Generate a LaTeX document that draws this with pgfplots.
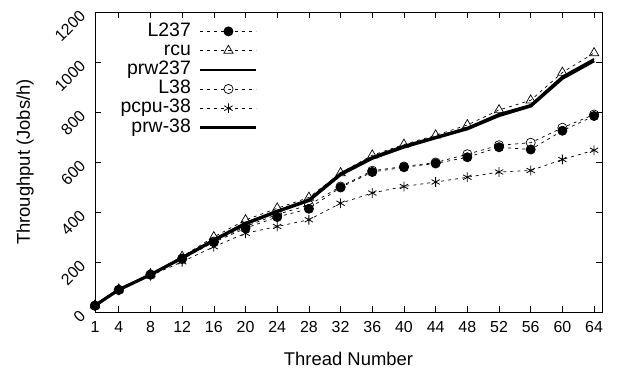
\documentclass[border=0pt]{standalone}
\usepackage{pgfplots}
\pgfplotsset{compat=1.18}
\usepackage{fontspec}
\setmainfont{Liberation Sans}
\begin{document}
\begin{tikzpicture}
\begin{axis}[
  scale only axis,
  width=507bp, height=300bp,
  xmin=1, xmax=65, ymin=0, ymax=1200,
  xtick={1,4,8,12,16,20,24,28,32,36,40,44,48,52,56,60,64},
  ytick={0,200,400,600,800,1000,1200},
  tick align=inside,
  major tick length=6bp,
  axis line style={line width=0.8bp},
  tick style={line width=0.6bp, black},
  /pgf/number format/assume math mode=true,
  /pgf/number format/1000 sep={},
  tick label style={font=\fontsize{16}{18}\selectfont},
  yticklabel style={xshift=-10bp, yshift=1bp, rotate=45, anchor=east},
  xticklabel style={anchor=north, yshift=-6bp},
  xlabel={Thread Number},
  ylabel={Throughput (Jobs/h)},
  every axis y label/.style={at={(axis description cs:-0.138,0.5)}, rotate=90, anchor=center, font=\fontsize{18.5}{20}\selectfont},
  every axis x label/.style={at={(axis description cs:0.5,-0.177)}, anchor=base, font=\fontsize{18.5}{20}\selectfont},
  legend plot pos=right,
  legend cell align=right,
  legend image code/.code={\draw[mark repeat=2,mark phase=2,#1] plot coordinates {(0bp,0bp) (28bp,0bp) (56bp,0bp)};},
  legend style={at={(0.322,0.968)}, anchor=north east, draw=none, fill=none,
    font=\fontsize{19.5}{20}\selectfont, inner sep=0pt, row sep=0pt,
    nodes={inner xsep=2bp, inner ysep=0.8bp, text height=13.6bp, text depth=4bp},
    /tikz/every odd column/.append style={column sep=6bp}},
]
\addplot[black, line width=0.7bp, dash pattern=on 3bp off 4bp, mark=*, mark size=4.6bp, mark options={solid, fill=black}] coordinates {
(1,25) (4,88) (8,149) (12,212) (16,279) (20,335) (24,380) (28,413) (32,498) (36,560) (40,579) (44,594) (48,619) (52,659) (56,650) (60,725) (64,784)};
\addlegendentry{L237}
\addplot[black, line width=0.7bp, dash pattern=on 3bp off 4bp, mark=triangle, mark size=5.4bp, mark options={solid, fill=white}] coordinates {
(1,27) (4,91) (8,152) (12,222) (16,300) (20,368) (24,415) (28,458) (32,556) (36,627) (40,670) (44,707) (48,748) (52,808) (56,847) (60,958) (64,1036)};
\addlegendentry{rcu}
\addplot[black, line width=2bp] coordinates {
(1,27) (4,90) (8,150) (12,218) (16,290) (20,357) (24,405) (28,450) (32,555) (36,620) (40,665) (44,700) (48,737) (52,792) (56,828) (60,942) (64,1012)};
\addlegendentry{prw237}
\addplot[black, line width=0.7bp, dash pattern=on 3bp off 4bp, mark=o, mark size=4.6bp, mark options={solid, fill=white}] coordinates {
(1,26) (4,89) (8,150) (12,214) (16,282) (20,342) (24,390) (28,428) (32,502) (36,565) (40,582) (44,598) (48,631) (52,667) (56,677) (60,737) (64,790)};
\addlegendentry{L38}
\addplot[black, line width=0.7bp, dash pattern=on 3bp off 4bp, mark=asterisk, mark size=4.8bp, mark options={solid, line width=0.8bp}] coordinates {
(1,25) (4,86) (8,145) (12,201) (16,261) (20,315) (24,342) (28,369) (32,435) (36,476) (40,502) (44,520) (48,539) (52,560) (56,566) (60,610) (64,647)};
\addlegendentry{pcpu-38}
\addplot[black, line width=3.2bp] coordinates {
(1,26) (4,89) (8,149) (12,216) (16,287) (20,353) (24,402) (28,446) (32,550) (36,615) (40,660) (44,697) (48,733) (52,786) (56,824) (60,935) (64,1005)};
\addlegendentry{prw-38}
\end{axis}
\path (current axis.south east) ++(17bp,0) coordinate (r);
\path (current axis.south west) ++(-95bp,-58bp) coordinate (bl);
\path (current axis.north west) ++(0,12bp) coordinate (tl);
\end{tikzpicture}
\end{document}
